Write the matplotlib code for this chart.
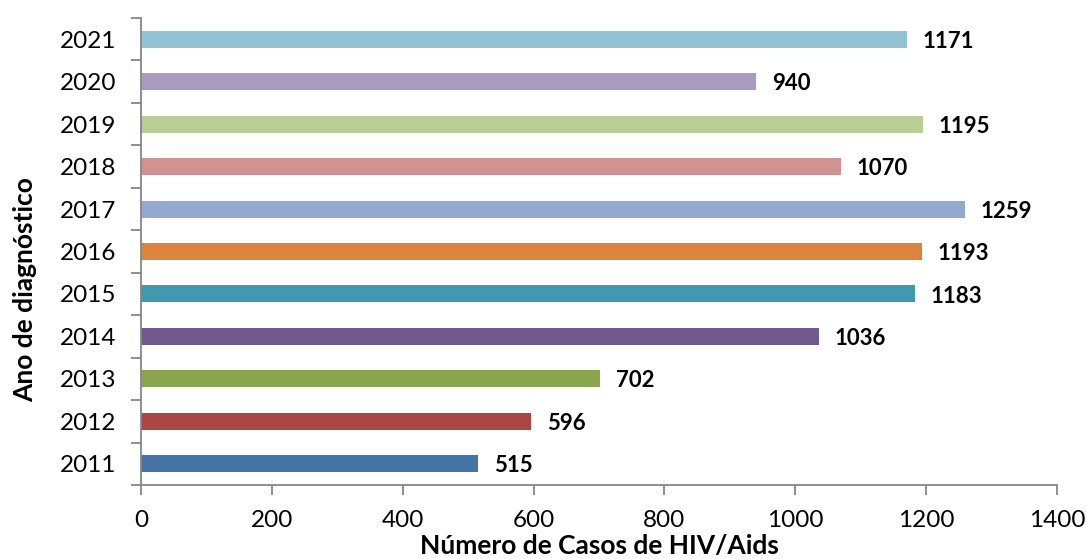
import matplotlib.pyplot as plt
import numpy as np

years = ['2011', '2012', '2013', '2014', '2015', '2016', '2017', '2018', '2019', '2020', '2021']
cases = [515, 596, 702, 1036, 1183, 1193, 1259, 1070, 1195, 940, 1171]
colors = ['#4572A7', '#AA4643', '#89A54E', '#71588F', '#4198AF', '#DB843D',
          '#93A9CF', '#D19392', '#B9CD96', '#A99BBD', '#92C3D4']

plt.rcParams['font.family'] = ['Lato', 'DejaVu Sans']

fig = plt.figure(figsize=(10.87, 5.59), dpi=100)
ax = fig.add_axes([0.1297, 0.1324, 0.8427, 0.8354])

y = np.arange(len(years))
ax.barh(y, cases, height=0.4, color=colors)

for yi, v in zip(y, cases):
    ax.text(v + 24, yi - 0.05, str(v), va='center', ha='left',
            fontsize=16, fontweight='bold')

ax.set_xlim(0, 1400)
ax.set_ylim(-0.5, len(years) - 0.5)
ax.set_xticks(np.arange(0, 1401, 200))
ax.set_yticks(y)
ax.set_yticklabels(years)
ax.set_yticks(np.arange(-0.5, len(years), 1), minor=True)

gray = '#868686'
for s in ['top', 'right']:
    ax.spines[s].set_visible(False)
for s in ['left', 'bottom']:
    ax.spines[s].set_color(gray)
    ax.spines[s].set_linewidth(1.3)

ax.tick_params(axis='y', which='major', length=0, pad=18, labelsize=17.5)
ax.tick_params(axis='y', which='minor', length=7, color=gray, width=1.3)
ax.tick_params(axis='x', which='major', length=7, color=gray, width=1.3,
               pad=11, labelsize=17.5)

ax.set_xlabel('Número de Casos de HIV/Aids', fontsize=19, fontweight='bold')
ax.set_ylabel('Ano de diagnóstico', fontsize=19, fontweight='bold')
ax.xaxis.set_label_coords(0.5, -0.106)
ax.yaxis.set_label_coords(-0.113, 0.418)

fig.savefig('out.png', dpi=100)
